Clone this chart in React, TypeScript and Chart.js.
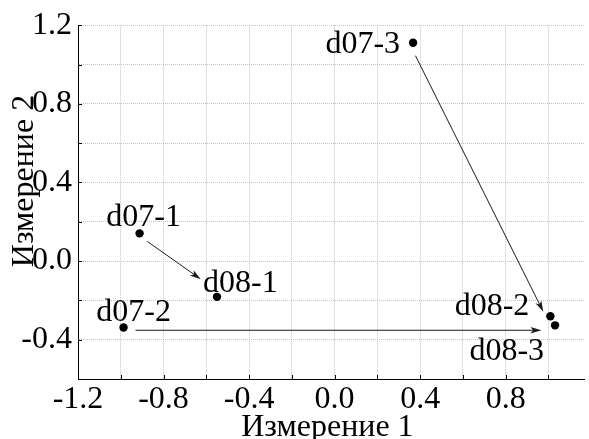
import React, { useEffect, useRef } from "react";
import { Chart, registerables } from "chart.js";

Chart.register(...registerables);

// ---- data ----
const pointLabels = ["d07-1", "d08-1", "d07-2", "d07-3", "d08-2", "d08-3"];
const dim1 = [-0.912, -0.55, -0.987, 0.367, 1.009, 1.031];
const dim2 = [0.141, -0.182, -0.338, 1.111, -0.281, -0.327];

const arrowFromX = [-0.876, -0.931, 0.378];
const arrowFromY = [0.1, -0.352, 1.045];
const arrowToX = [-0.626, 0.967, 0.976];
const arrowToY = [-0.092, -0.352, -0.258];

const xTickValues = [-1.2, -1.0, -0.8, -0.6, -0.4, -0.2, 0.0, 0.2, 0.4, 0.6, 0.8, 1.0];
const yTickValues = [-0.6, -0.4, -0.2, 0.0, 0.2, 0.4, 0.6, 0.8, 1.0, 1.2];
const xLabeledTicks = [-1.2, -0.8, -0.4, 0.0, 0.4, 0.8];
const yLabeledTicks = [-0.4, 0.0, 0.4, 0.8, 1.2];

const xTitle = "Измерение 1";
const yTitle = "Измерение 2";

// ---- styles ----
const FONT_FAMILY = "'Liberation Serif', 'DejaVu Serif', serif";
const FONT_SIZE = 32;

const labelPlacement: Record<string, { dx: number; dy: number; align: CanvasTextAlign }> = {
  "d07-1": { dx: 4, dy: -7, align: "center" },
  "d08-1": { dx: -14, dy: -5, align: "left" },
  "d07-2": { dx: 10, dy: -7, align: "center" },
  "d07-3": { dx: -13, dy: 10, align: "right" },
  "d08-2": { dx: -21, dy: -1, align: "right" },
  "d08-3": { dx: -11, dy: 35, align: "right" },
};

const isIn = (arr: number[], v: number) => arr.some((t) => Math.abs(t - v) < 1e-6);

const overlayPlugin = {
  id: "overlay",
  beforeDatasetsDraw(chart: any) {
    const ctx = chart.ctx as CanvasRenderingContext2D;
    const xs = chart.scales.x;
    const ys = chart.scales.y;
    ctx.save();
    ctx.strokeStyle = "#1a1a1a";
    ctx.fillStyle = "#1a1a1a";
    ctx.lineWidth = 1;
    for (let i = 0; i < arrowFromX.length; i++) {
      const x1 = xs.getPixelForValue(arrowFromX[i]);
      const y1 = ys.getPixelForValue(arrowFromY[i]);
      const x2 = xs.getPixelForValue(arrowToX[i]);
      const y2 = ys.getPixelForValue(arrowToY[i]);
      const ang = Math.atan2(y2 - y1, x2 - x1);
      const c = Math.cos(ang);
      const s = Math.sin(ang);
      const L = 11;
      const W = 3.2;
      ctx.beginPath();
      ctx.moveTo(x1, y1);
      ctx.lineTo(x2 - c * L * 0.7, y2 - s * L * 0.7);
      ctx.stroke();
      ctx.beginPath();
      ctx.moveTo(x2, y2);
      ctx.lineTo(x2 - c * L - s * W, y2 - s * L + c * W);
      ctx.lineTo(x2 - c * L * 0.75, y2 - s * L * 0.75);
      ctx.lineTo(x2 - c * L + s * W, y2 - s * L - c * W);
      ctx.closePath();
      ctx.fill();
    }
    ctx.restore();
  },
  afterDatasetsDraw(chart: any) {
    const ctx = chart.ctx as CanvasRenderingContext2D;
    const xs = chart.scales.x;
    const ys = chart.scales.y;
    ctx.save();
    ctx.fillStyle = "#000";
    ctx.font = `${FONT_SIZE}px ${FONT_FAMILY}`;
    ctx.textBaseline = "alphabetic";
    pointLabels.forEach((lab, i) => {
      const p = labelPlacement[lab];
      const px = xs.getPixelForValue(dim1[i]);
      const py = ys.getPixelForValue(dim2[i]);
      ctx.textAlign = p.align;
      ctx.fillText(lab, px + p.dx, py + p.dy);
    });
    ctx.restore();
  },
  afterDraw(chart: any) {
    const ctx = chart.ctx as CanvasRenderingContext2D;
    const area = chart.chartArea;
    const xs = chart.scales.x;
    const ys = chart.scales.y;
    ctx.save();
    // small inward tick marks
    ctx.strokeStyle = "#000";
    ctx.lineWidth = 1;
    ctx.beginPath();
    xTickValues.forEach((v) => {
      const px = Math.round(xs.getPixelForValue(v)) + 0.5;
      ctx.moveTo(px, area.bottom);
      ctx.lineTo(px, area.bottom - 4);
    });
    yTickValues.forEach((v) => {
      const py = Math.round(ys.getPixelForValue(v)) + 0.5;
      ctx.moveTo(area.left, py);
      ctx.lineTo(area.left + 4, py);
    });
    ctx.stroke();
    // axis titles
    ctx.fillStyle = "#000";
    ctx.font = `${FONT_SIZE}px ${FONT_FAMILY}`;
    ctx.textBaseline = "alphabetic";
    ctx.textAlign = "center";
    ctx.fillText(xTitle, (area.left + area.right) / 2 - 4, 436);
    ctx.translate(33, 181);
    ctx.rotate(-Math.PI / 2);
    ctx.fillText(yTitle, 0, 0);
    ctx.restore();
  },
};

export default function App() {
  const canvasRef = useRef<HTMLCanvasElement | null>(null);

  useEffect(() => {
    const canvas = canvasRef.current;
    if (!canvas) return;
    const chart = new Chart(canvas, {
      type: "scatter",
      data: {
        datasets: [
          {
            label: "points",
            data: dim1.map((x, i) => ({ x, y: dim2[i] })),
            backgroundColor: "#000",
            borderColor: "#000",
            borderWidth: 0,
            pointRadius: 4.2,
            pointHoverRadius: 4.2,
          },
        ],
      },
      options: {
        responsive: false,
        animation: false,
        events: [],
        layout: { padding: { top: 22, right: 0, left: 0, bottom: 0 } },
        plugins: {
          legend: { display: false },
          tooltip: { enabled: false },
          title: { display: false },
        },
        scales: {
          x: {
            type: "linear",
            min: -1.2,
            max: 1.17,
            afterBuildTicks: (scale: any) => {
              scale.ticks = xTickValues.map((v) => ({ value: v }));
            },
            afterFit: (scale: any) => {
              scale.height = 60;
            },
            grid: {
              color: "#c4c4c4",
              lineWidth: 1,
              drawTicks: false,
            },
            border: { display: true, color: "#000", width: 1, dash: [1, 1] },
            ticks: {
              autoSkip: false,
              maxRotation: 0,
              padding: 1,
              color: "#000",
              font: { family: FONT_FAMILY, size: FONT_SIZE, lineHeight: 1.2 },
              callback: (v: any) => (isIn(xLabeledTicks, Number(v)) ? Number(v).toFixed(1) : ""),
            },
          },
          y: {
            type: "linear",
            min: -0.6,
            max: 1.2,
            afterBuildTicks: (scale: any) => {
              scale.ticks = yTickValues.map((v) => ({ value: v }));
            },
            afterFit: (scale: any) => {
              scale.width = 78;
            },
            grid: {
              color: "#c4c4c4",
              lineWidth: 1,
              drawTicks: false,
            },
            border: { display: true, color: "#000", width: 1, dash: [1, 1] },
            ticks: {
              autoSkip: false,
              padding: 6,
              color: "#000",
              font: { family: FONT_FAMILY, size: FONT_SIZE, lineHeight: 1.2 },
              callback: (v: any) => (isIn(yLabeledTicks, Number(v)) ? Number(v).toFixed(1) : ""),
            },
          },
        },
      },
      plugins: [overlayPlugin],
    } as any);
    return () => chart.destroy();
  }, []);

  return (
    <div style={{ position: "fixed", left: 0, top: 0, width: 589, height: 439, background: "#fff" }}>
      <canvas ref={canvasRef} width={589} height={439} style={{ display: "block" }} />
    </div>
  );
}
